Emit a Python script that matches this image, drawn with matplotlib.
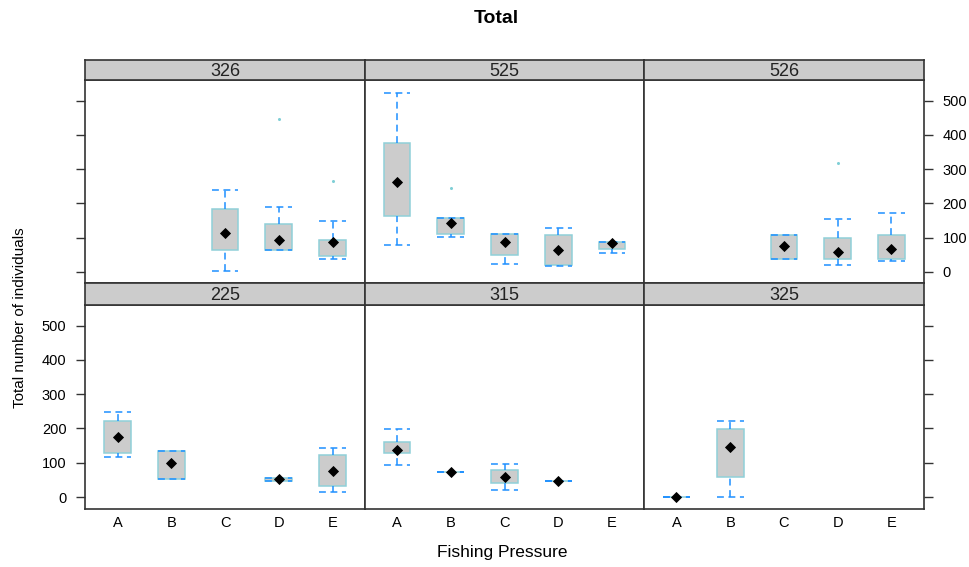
import numpy as np
import matplotlib.pyplot as plt

plt.rcParams['font.family'] = ['Liberation Sans', 'DejaVu Sans']

cats = ['A', 'B', 'C', 'D', 'E']
panels = ['326', '525', '526', '225', '315', '325']

# five-number style summaries per panel, one entry per category (None = no data)
lo = {
    '326': [None, None, 3, 64, 38],
    '525': [77, 102, 22, 17, 55],
    '526': [None, None, 38, 21, 30],
    '225': [117, 54, None, 46, 16],
    '315': [93, 72, 21, 47, None],
    '325': [1, 0, None, None, None],
}
q1 = {
    '326': [None, None, 63, 64, 47],
    '525': [164, 110, 50, 19, 67],
    '526': [None, None, 38, 38, 38],
    '225': [129, 54, None, 46, 33],
    '315': [128, 72, 42, 47, None],
    '325': [1, 59, None, None, None],
}
mid = {
    '326': [None, None, 112, 92, 87],
    '525': [261, 143, 87, 62, 83],
    '526': [None, None, 75, 57, 65],
    '225': [175, 98, None, 52, 77],
    '315': [137, 72, 57, 47, None],
    '325': [1, 145, None, None, None],
}
q3 = {
    '326': [None, None, 182, 140, 94],
    '525': [377, 157, 110, 106, 87],
    '526': [None, None, 106, 98, 106],
    '225': [223, 134, None, 56, 123],
    '315': [160, 72, 80, 47, None],
    '325': [1, 198, None, None, None],
}
hi = {
    '326': [None, None, 240, 190, 149],
    '525': [524, 157, 110, 127, 88],
    '526': [None, None, 106, 153, 173],
    '225': [248, 134, None, 56, 143],
    '315': [198, 72, 97, 47, None],
    '325': [1, 223, None, None, None],
}
outliers = {
    '326': [[], [], [], [447], [265]],
    '525': [[], [244], [], [], []],
    '526': [[], [], [], [317], []],
    '225': [[], [], [], [], []],
    '315': [[], [], [], [], []],
    '325': [[], [], [], [], []],
}
yticks = [0, 100, 200, 300, 400, 500]

W, H = 970, 567
fig = plt.figure(figsize=(W / 100, H / 100), dpi=100)

x0, x1 = 85.3, 923.7
pw = (x1 - x0) / 3
rows = [(80.3, 283.3, 59.7), (305.0, 508.7, 283.3)]  # panel top, panel bottom, strip top

box_edge = '#8fd0d8'
wcol = '#1e90ff'
border = '#333333'
hw = 0.25

for i, name in enumerate(panels):
    r, c = divmod(i, 3)
    top, bot, stop = rows[r]
    left = x0 + c * pw
    ax = fig.add_axes([left / W, 1 - bot / H, pw / W, (bot - top) / H])
    st = fig.add_axes([left / W, 1 - top / H, pw / W, (top - stop) / H])

    st.set_facecolor('#cccccc')
    st.set_xticks([])
    st.set_yticks([])
    st.text(0.5, 0.45, name, ha='center', va='center', fontsize=13, color='#222222')
    for s in st.spines.values():
        s.set_color(border)
        s.set_linewidth(1.2)

    for k in range(len(cats)):
        if mid[name][k] is None:
            continue
        x = k + 1
        ax.add_patch(plt.Rectangle((x - hw, q1[name][k]), 2 * hw, q3[name][k] - q1[name][k],
                                   facecolor='#cccccc', edgecolor=box_edge, lw=1.1, zorder=2))
        ls = (0, (4.5, 3))
        ax.plot([x, x], [q3[name][k], hi[name][k]], color=wcol, lw=1.1, ls=ls, zorder=3)
        ax.plot([x, x], [lo[name][k], q1[name][k]], color=wcol, lw=1.1, ls=ls, zorder=3)
        ax.plot([x - hw, x + hw], [hi[name][k]] * 2, color=wcol, lw=1.1, ls=ls, zorder=3)
        ax.plot([x - hw, x + hw], [lo[name][k]] * 2, color=wcol, lw=1.1, ls=ls, zorder=3)
        ax.plot(x, mid[name][k], marker='D', color='black', ms=5.5, mew=0.6, zorder=4)
        for v in outliers[name][k]:
            ax.plot(x, v, marker='o', color='#7fcfd6', ms=2.2, mew=0, zorder=4)

    ax.set_xlim(0.4, 5.6)
    ax.set_ylim(-34, 560)
    ax.set_xticks(range(1, 6))
    ax.set_yticks(yticks)
    ax.tick_params(axis='x', length=0, pad=5, labelsize=10.5)
    ax.tick_params(axis='y', length=6.5, width=1.0, color=border, labelsize=10.5, pad=7,
                   left=(c == 0), right=(c == 2), labelleft=(c == 0 and r == 1),
                   labelright=(c == 2 and r == 0))
    if r == 1:
        ax.set_xticklabels(cats)
    else:
        ax.set_xticklabels([])
    for s in ax.spines.values():
        s.set_color(border)
        s.set_linewidth(1.2)

fig.text(496 / W, 1 - 18.5 / H, 'Total', ha='center', va='center', fontsize=14, fontweight='bold')
fig.text(502 / W, 1 - 552 / H, 'Fishing Pressure', ha='center', va='center', fontsize=12.5)
fig.text(20 / W, 1 - 318 / H, 'Total number of individuals', ha='center', va='center',
         rotation=90, fontsize=11)

fig.savefig('out.png', dpi=100)
